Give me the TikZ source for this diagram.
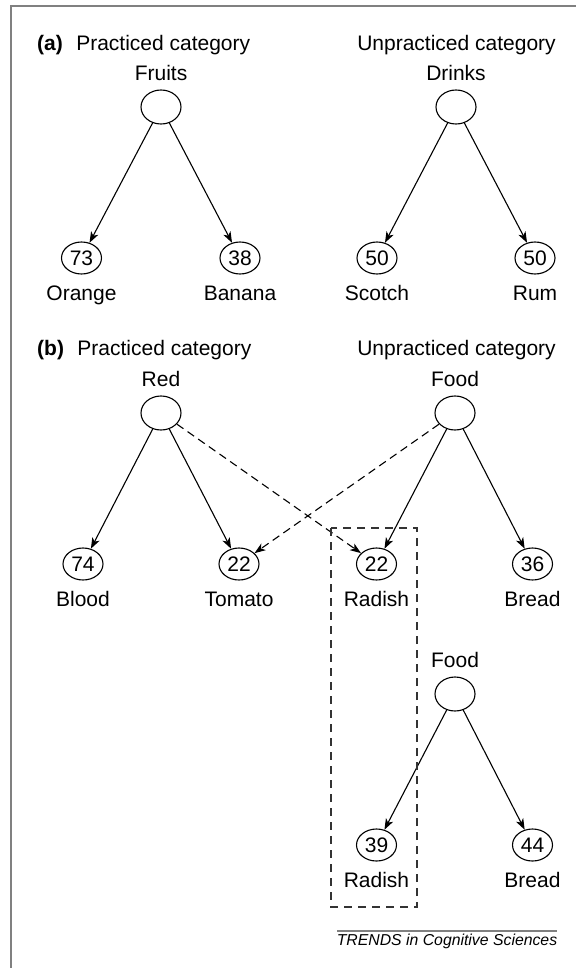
\documentclass[tikz,border=0pt]{standalone}
\usepackage{fontspec}
\setmainfont{Liberation Sans}
\usetikzlibrary{arrows.meta, positioning, shapes.geometric}
\tikzstyle{word} = [inner sep=0pt, font=\fontsize{21}{25}\selectfont, text height=15pt, text depth=4pt]
\tikzstyle{tag} = [word, font=\fontsize{21}{25}\selectfont\bfseries]
\tikzstyle{root} = [draw, ellipse, line width=1.1pt, minimum width=40pt, minimum height=34pt, inner sep=0pt]
\tikzstyle{leaf} = [root, minimum height=32pt, font=\fontsize{21}{25}\selectfont]
\tikzstyle{link} = [-{Stealth[length=11pt, width=8pt, inset=3pt]}, line width=1.1pt]
\tikzstyle{cross} = [link, dash pattern=on 8pt off 5pt]
\tikzstyle{box} = [line width=1.1pt, black!80, dash pattern=on 8pt off 6pt]
\tikzstyle{frame} = [line width=2pt, black!50]
\begin{document}
\begin{tikzpicture}[x=1pt, y=-1pt, node distance=5mm]
    \useasboundingbox (0,0) rectangle (576,968);
    \draw [frame] (11,968) |- (576,6);

    % Headings.
    \node (a tag) [tag, anchor=base west] at (37,50.5) {(a)};
    \node (a practiced) [word, right=13pt of a tag] {Practiced category};
    \node (a unpracticed) [word, anchor=base] at (456.5,50.5) {Unpracticed category};
    \node (b tag) [tag, anchor=base west] at (37,355.5) {(b)};
    \node (b practiced) [word, right=13pt of b tag] {Practiced category};
    \node (b unpracticed) [word, anchor=base] at (456.5,355.5) {Unpracticed category};

    % Categories.
    \node (fruits) [root] at (161,107) {};
    \node (drinks) [root] at (456,107) {};
    \node (red) [root] at (161,413) {};
    \node (food) [root] at (455,413) {};
    \node (food 2) [root] at (455,694) {};
    \foreach \n/\t in {fruits/Fruits, drinks/Drinks, red/Red, food/Food, food 2/Food} {%
        \node (\n name) [word, above=4.5pt of \n] {\t};
    }

    % Items.
    \foreach \n/\v/\px/\py/\t in {orange/73/81.5/258/Orange, banana/38/240/258/Banana,
            scotch/50/377/258/Scotch, rum/50/535/258/Rum,
            blood/74/83/564/Blood, tomato/22/239/564/Tomato,
            radish/22/376.5/564/Radish, bread/36/532.5/564/Bread,
            radish 2/39/376.5/845/Radish, bread 2/44/532.5/845/Bread} {%
        \node (\n) [leaf] at (\px,\py) {\v};
        \node (\n name) [word, below=10.5pt of \n] {\t};
    }

    % Arrows.
    \foreach \r/\l in {fruits/orange, fruits/banana, drinks/scotch, drinks/rum,
            red/blood, red/tomato, food/radish, food/bread,
            food 2/radish 2, food 2/bread 2} {%
        \draw [link] (\r) -- (\l);
    }
    \draw [cross] (red) -- (radish);
    \draw [cross] (food) -- (tomato);

    \draw [box] (331,528) rectangle (417,907);

    % Credit.
    \draw [line width=1.5pt, black!50] (337,931) -- (557,931);
    \node (credit) [inner sep=0pt, anchor=base, font=\fontsize{15.8}{19}\selectfont\itshape] at (447,945.3) {TRENDS in Cognitive Sciences};
\end{tikzpicture}
\end{document}
